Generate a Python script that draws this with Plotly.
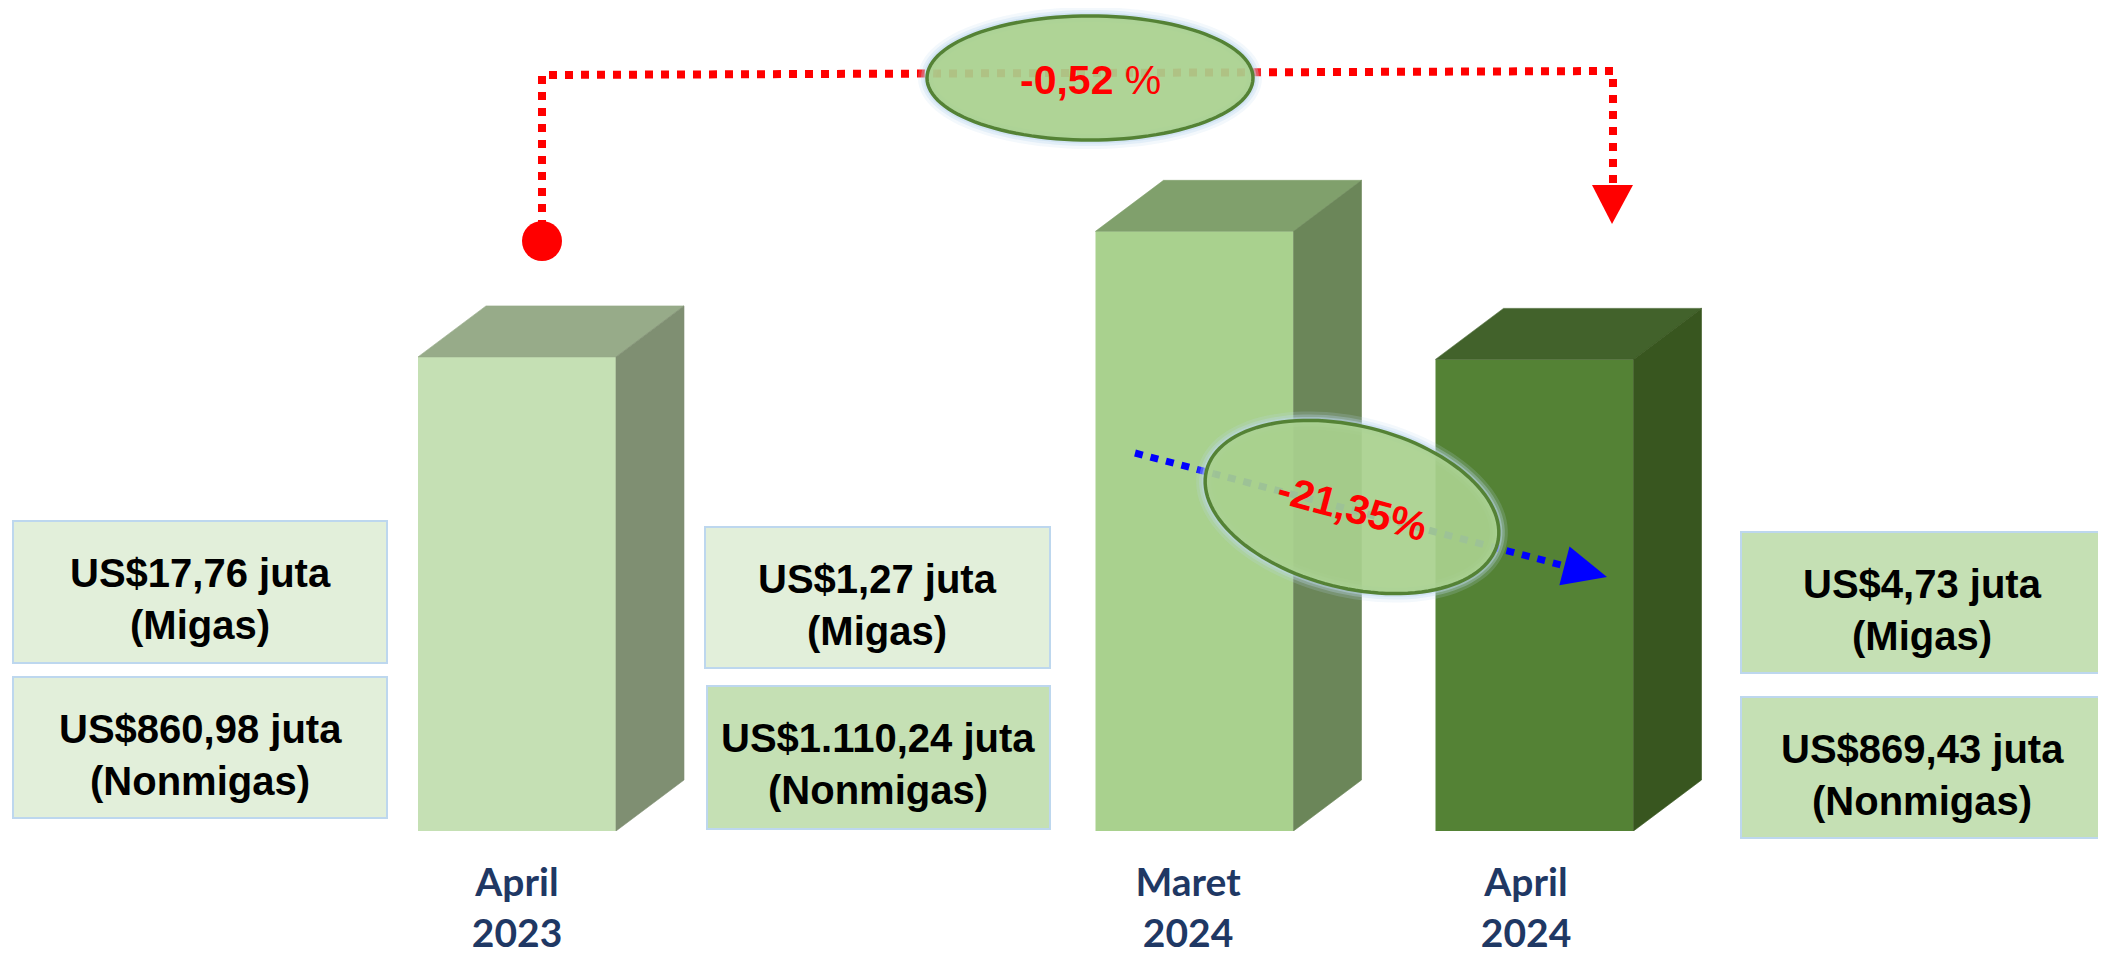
import numpy as np
import plotly.graph_objects as go

# ---------------- data ----------------
categories = ["April 2023", "Maret 2024", "April 2024"]
tick_lines = [["April", "2023"], ["Maret", "2024"], ["April", "2024"]]
migas = [17.76, 1.27, 4.73]          # US$ juta
nonmigas = [860.98, 1110.24, 869.43]  # US$ juta
kinds = ["Migas", "Nonmigas"]

totals = [m + n for m, n in zip(migas, nonmigas)]
yoy = (totals[2] / totals[0] - 1) * 100
mtm = (totals[2] / totals[1] - 1) * 100


def fmt_id(v, dec=2):
    s = f"{v:,.{dec}f}"
    return s.replace(",", "X").replace(".", ",").replace("X", ".")


# ---------------- layout / geometry (page pixel coordinates) ----------------
W, H = 2106, 954
OFF = 8                 # default page body margin
FW, FH = W - OFF, H - OFF
BASE_PX = 831           # page row of the zero line
K = 0.5395              # px per US$ juta
PLOT_H = BASE_PX - OFF
Y_TOP = PLOT_H / K

bar_x = [517, 1194.5, 1534.5]
label_x = [517, 1188, 1526]
bar_w = 198
depth_dx = 68
depth_dy = 51 / K

front_colors = ["#C5E0B4", "#A9D18E", "#548235"]
top_colors = ["#97AB89", "#80A06C", "#42622B"]
side_colors = ["#7F8F72", "#6B8659", "#38561F"]

FONT = "Liberation Sans, Arial, sans-serif"


def P(px, py):
    return (px - OFF) / FW, (BASE_PX - py) / PLOT_H


fig = go.Figure()
fig.add_trace(go.Bar(x=bar_x, y=totals, width=bar_w,
                     marker=dict(color=front_colors, line=dict(width=0)),
                     hoverinfo="skip"))
for i, (x, v) in enumerate(zip(bar_x, totals)):
    xl, xr = x - bar_w / 2, x + bar_w / 2
    fig.add_trace(go.Scatter(
        x=[xl, xl + depth_dx, xr + depth_dx, xr, xl],
        y=[v, v + depth_dy, v + depth_dy, v, v],
        mode="lines", fill="toself", fillcolor=top_colors[i],
        line=dict(width=0.6, color=top_colors[i]), hoverinfo="skip"))
    fig.add_trace(go.Scatter(
        x=[xr, xr + depth_dx, xr + depth_dx, xr, xr],
        y=[v, v + depth_dy, depth_dy, 0, v],
        mode="lines", fill="toself", fillcolor=side_colors[i],
        line=dict(width=0.6, color=side_colors[i]), hoverinfo="skip"))

shapes = []
annotations = []

# text boxes: (x0, x1, y0, y1, fill, text centre x)
box_geom = {
    (0, 0): (13, 387, 521, 663, "#E2EFDA", 200),
    (0, 1): (13, 387, 677, 818, "#E2EFDA", 200),
    (1, 0): (705, 1050, 527, 668, "#E2EFDA", 877),
    (1, 1): (707, 1050, 686, 829, "#C5E0B4", 878),
    (2, 0): (1741, 2112, 532, 673, "#C5E0B4", 1922),
    (2, 1): (1741, 2112, 697, 838, "#C5E0B4", 1922),
}
series = [migas, nonmigas]
for (ci, ki), (x0, x1, y0, y1, fill, tcx) in box_geom.items():
    a0, b0 = P(x0, y1)
    a1, b1 = P(x1, y0)
    shapes.append(dict(type="rect", xref="paper", yref="paper", x0=a0, x1=a1,
                       y0=b0, y1=b1, fillcolor=fill,
                       line=dict(color="#BDD7EE", width=2), layer="below"))
    val = series[ki][ci]
    for txt, off in ((f"<b>US${fmt_id(val)} juta</b>", 52),
                     (f"<b>({kinds[ki]})</b>", 104)):
        ax, ay = P(tcx, y0 + off)
        annotations.append(dict(xref="paper", yref="paper", x=ax, y=ay,
                                text=txt, showarrow=False, xanchor="center",
                                yanchor="middle",
                                font=dict(family=FONT, size=40,
                                          color="black")))


def path_from(points, close=False):
    s = ""
    for j, (px, py) in enumerate(points):
        a, b = P(px, py)
        s += ("M" if j == 0 else "L") + f"{a:.6f},{b:.6f} "
    return s + ("Z" if close else "")


def ellipse_pts(cx, cy, a, b, theta_deg, n=120):
    th = np.radians(theta_deg)
    t = np.linspace(0, 2 * np.pi, n, endpoint=False)
    xs = cx + a * np.cos(t) * np.cos(th) - b * np.sin(t) * np.sin(th)
    ys = cy + a * np.cos(t) * np.sin(th) + b * np.sin(t) * np.cos(th)
    return list(zip(xs, ys))


# blue dotted arrow (month-to-month)
b_start = (1135, 453)
b_tip = (1607, 577)
ang = np.arctan2(b_tip[1] - b_start[1], b_tip[0] - b_start[0])
ux, uy = np.cos(ang), np.sin(ang)
head_len, head_hw = 44, 20
base = (b_tip[0] - head_len * ux, b_tip[1] - head_len * uy)
shapes.append(dict(type="path", xref="paper", yref="paper",
                   path=path_from([b_start, (base[0] + 2 * ux, base[1] + 2 * uy)]),
                   line=dict(color="#0000FF", width=7, dash="8px,8px"),
                   layer="above"))
shapes.append(dict(type="path", xref="paper", yref="paper",
                   path=path_from([b_tip,
                                   (base[0] - head_hw * uy, base[1] + head_hw * ux),
                                   (base[0] + head_hw * uy, base[1] - head_hw * ux)],
                                  close=True),
                   fillcolor="#0000FF", line=dict(width=0), layer="above"))

# red dotted connector (year-on-year)
shapes.append(dict(type="path", xref="paper", yref="paper",
                   path=path_from([(542, 228), (542, 75), (1613, 71), (1613, 192)]),
                   line=dict(color="#FF0000", width=8, dash="8px,8px"),
                   layer="above"))
c0 = P(522, 221)
c1 = P(562, 261)
shapes.append(dict(type="circle", xref="paper", yref="paper",
                   x0=c0[0], x1=c1[0], y0=c1[1], y1=c0[1],
                   fillcolor="#FF0000", line=dict(width=0), layer="above"))
shapes.append(dict(type="path", xref="paper", yref="paper",
                   path=path_from([(1592, 185), (1633, 185), (1612, 224)], close=True),
                   fillcolor="#FF0000", line=dict(width=0), layer="above"))

# ellipses with soft glow
for (cx, cy, a, b, th) in [(1090, 78, 163, 62, 0), (1352, 507, 150, 81, 14)]:
    pts = ellipse_pts(cx, cy, a, b, th)
    for gw, ga in ((18, 0.18), (12, 0.3), (7, 0.45)):
        shapes.append(dict(type="path", xref="paper", yref="paper",
                           path=path_from(pts, close=True),
                           fillcolor="rgba(0,0,0,0)",
                           line=dict(color=f"rgba(189,215,238,{ga})", width=gw),
                           layer="above"))
    shapes.append(dict(type="path", xref="paper", yref="paper",
                       path=path_from(pts, close=True),
                       fillcolor="rgba(169,209,142,0.93)",
                       line=dict(color="#548235", width=3.5),
                       layer="above"))

ax, ay = P(1090, 80)
annotations.append(dict(xref="paper", yref="paper", x=ax, y=ay,
                        xanchor="center", yanchor="middle",
                        text=f"<b>{fmt_id(yoy)}</b> %", showarrow=False,
                        font=dict(family=FONT, size=41, color="#FF0000")))
ax, ay = P(1352, 508)
annotations.append(dict(xref="paper", yref="paper", x=ax, y=ay,
                        xanchor="center", yanchor="middle",
                        text=f"<b>{fmt_id(mtm)}%</b>", showarrow=False,
                        textangle=15,
                        font=dict(family=FONT, size=41, color="#FF0000")))

fig.update_layout(
    width=FW, height=FH,
    margin=dict(l=0, r=0, t=0, b=FH - PLOT_H, autoexpand=False),
    paper_bgcolor="white", plot_bgcolor="white",
    showlegend=False,
    shapes=shapes, annotations=annotations,
    xaxis=dict(range=[OFF, W], tickvals=label_x,
               ticktext=[f"<b>{l1}</b><br><b>{l2}</b>" for l1, l2 in tick_lines],
               showgrid=False, zeroline=False, showline=False, ticks="",
               automargin=False,
               ticklabelstandoff=25,
               tickfont=dict(family="Lato", size=39, color="#1F3864"),
               fixedrange=True),
    yaxis=dict(range=[0, Y_TOP], visible=False, fixedrange=True,
               automargin=False),
)

fig.write_html("out.html")
